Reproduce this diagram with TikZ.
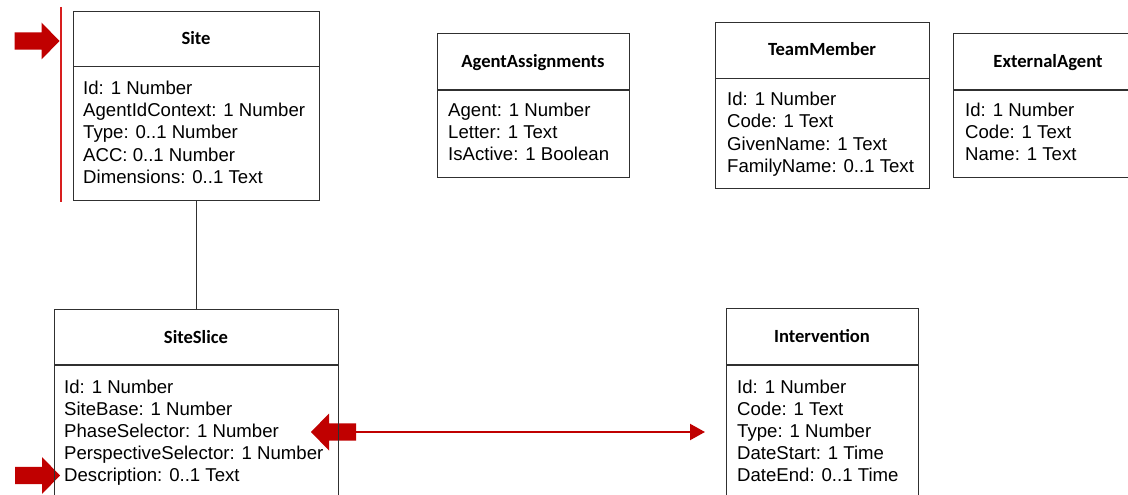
\documentclass[tikz,border=0pt]{standalone}
\usepackage{fontspec}
\setmainfont{Liberation Sans}
\newfontfamily\titlefont{Carlito}
\usetikzlibrary{arrows.meta}
\definecolor{arrred}{HTML}{C00000}
\definecolor{vred}{HTML}{D81E1E}
\definecolor{boxline}{HTML}{303030}
\tikzset{
  umlbox/.style={draw=boxline, line width=1.4pt, inner sep=0pt, anchor=north west},
  divider/.style={draw=boxline, line width=1.4pt},
  ttl/.style={font=\titlefont\bfseries\fontsize{18.6}{22}\selectfont, anchor=base, inner sep=0pt},
  attr/.style={font=\fontsize{18.6}{22}\selectfont, anchor=base west, inner sep=0pt},
  conn/.style={draw=boxline, line width=1.4pt},
  link/.style={draw=arrred, line width=2.2pt, -{Triangle[length=15pt,width=16pt]}},
  marker/.style={draw=vred, line width=2pt},
  pics/blockptr/.style={code={
    \fill[arrred] (-45,-8.7) -- (-18,-8.7) -- (-18,-18.5) -- (0,0) -- (-18,18.5) -- (-18,8.7) -- (-45,8.7) -- cycle;}}
}
\begin{document}
\begin{tikzpicture}[x=1pt,y=-1pt]
\useasboundingbox[fill=white] (0,0) rectangle (1128,495);

% red pointers
\pic at (59.5,41) {blockptr};
\pic at (60,475.5) {blockptr};
\pic[rotate=180] at (311,432) {blockptr};
\draw[marker] (60.5,7) -- (60.5,202);

% Site
\node[umlbox, minimum width=246pt, minimum height=189pt] (site) at (73,11) {};
\draw[divider] ([yshift=-55.5pt]site.north west) -- ([yshift=-55.5pt]site.north east);
\node[ttl] (site-t) at (196,44.5) {Site};
\foreach \t [count=\i from 0] in {Id: 1 Number, AgentIdContext: 1 Number, Type: 0..1 Number, ACC: 0..1 Number, Dimensions: 0..1 Text}
  \node[attr] (site-a\i) at (83,{95+22*\i}) {\t};

% SiteSlice
\node[umlbox, minimum width=284pt, minimum height=230pt] (siteslice) at (54,309) {};
\draw[divider] ([yshift=-56pt]siteslice.north west) -- ([yshift=-56pt]siteslice.north east);
\node[ttl] (siteslice-t) at (196,343) {SiteSlice};
\foreach \t [count=\i from 0] in {Id: 1 Number, SiteBase: 1 Number, PhaseSelector: 1 Number, PerspectiveSelector: 1 Number, Description: 0..1 Text}
  \node[attr] (siteslice-a\i) at (64,{393.5+22*\i}) {\t};

% AgentAssignments
\node[umlbox, minimum width=192pt, minimum height=144pt] (agent) at (437,33) {};
\draw[divider] ([yshift=-57pt]agent.north west) -- ([yshift=-57pt]agent.north east);
\node[ttl] (agent-t) at (533,67.5) {AgentAssignments};
\foreach \t [count=\i from 0] in {Agent: 1 Number, Letter: 1 Text, IsActive: 1 Boolean}
  \node[attr] (agent-a\i) at (448,{116.7+22*\i}) {\t};

% TeamMember
\node[umlbox, minimum width=214pt, minimum height=166pt] (team) at (715,22) {};
\draw[divider] ([yshift=-56.3pt]team.north west) -- ([yshift=-56.3pt]team.north east);
\node[ttl] (team-t) at (822,56) {TeamMember};
\foreach \t [count=\i from 0] in {Id: 1 Number, Code: 1 Text, GivenName: 1 Text, FamilyName: 0..1 Text}
  \node[attr] (team-a\i) at (727,{106+22*\i}) {\t};

% ExternalAgent
\node[umlbox, minimum width=190pt, minimum height=144pt] (ext) at (953,33) {};
\draw[divider] ([yshift=-57pt]ext.north west) -- ([yshift=-57pt]ext.north east);
\node[ttl] (ext-t) at (1048,67.5) {ExternalAgent};
\foreach \t [count=\i from 0] in {Id: 1 Number, Code: 1 Text, Name: 1 Text}
  \node[attr] (ext-a\i) at (965,{116.7+22*\i}) {\t};

% Intervention
\node[umlbox, minimum width=192pt, minimum height=230pt] (interv) at (726,308) {};
\draw[divider] ([yshift=-57pt]interv.north west) -- ([yshift=-57pt]interv.north east);
\node[ttl] (interv-t) at (822,342.5) {Intervention};
\foreach \t [count=\i from 0] in {Id: 1 Number, Code: 1 Text, Type: 1 Number, DateStart: 1 Time, DateEnd: 0..1 Time}
  \node[attr] (interv-a\i) at (737,{393.3+22*\i}) {\t};

% connectors
\draw[conn] (site.south) -- (siteslice.north);
\coordinate (ptr-tail) at (355,432);
\coordinate (interv-tip) at (705,432);
\draw[link] (ptr-tail) -- (interv-tip);
\end{tikzpicture}
\end{document}
